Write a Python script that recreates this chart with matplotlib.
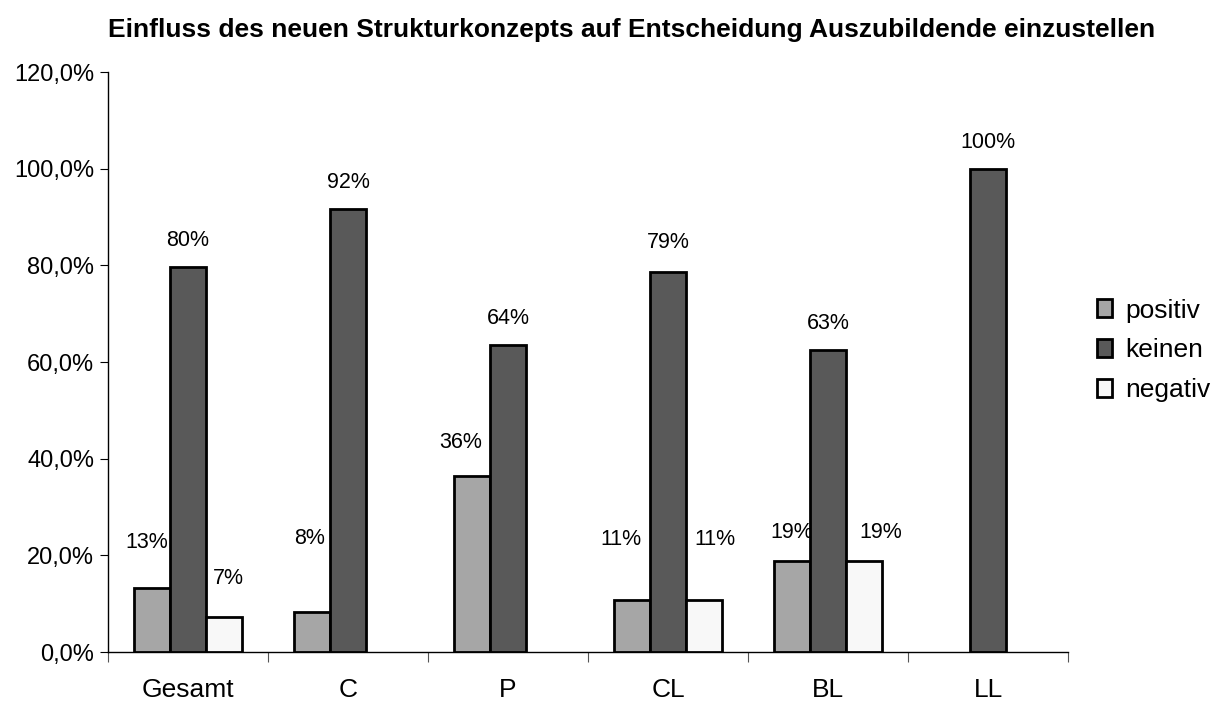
import numpy as np
import matplotlib.pyplot as plt
from matplotlib.ticker import FuncFormatter

plt.rcParams['font.family'] = ['Liberation Sans', 'DejaVu Sans']

# data (percent)
groups = ['Gesamt', 'C', 'P', 'CL', 'BL', 'LL']
series = ['positiv', 'keinen', 'negativ']
positiv = [13.2, 8.3, 36.4, 10.7, 18.75, 0.0]
keinen = [79.6, 91.7, 63.6, 78.6, 62.5, 100.0]
negativ = [7.2, 0.0, 0.0, 10.7, 18.75, 0.0]
yticks = [0, 20, 40, 60, 80, 100, 120]

colors = ['#a6a6a6', '#595959', '#f8f8f8']
# label placement like the original (y in %, x shift in points)
label_dy = [
    [9.4, 15.1, 7.0, 12.5, 5.9, 0],
    [5.6, 5.5, 5.5, 6.2, 5.4, 5.5],
    [8.1, 0, 0, 12.5, 5.9, 0],
]
label_dx = [
    [-4, -2, -8, -8, 0, 0],
    [0, 0, 0, 0, 0, 0],
    [3, 0, 0, 8, 12, 0],
]

fig = plt.figure(figsize=(12.26, 7.02), dpi=100)
ax = fig.add_axes([108 / 1226, 50 / 702, 960 / 1226, 580 / 702])

x = np.arange(len(groups))
w = 0.225
for i, (name, vals) in enumerate(zip(series, [positiv, keinen, negativ])):
    pos = x + (i - 1) * w
    lw = [2 if v > 0 else 0 for v in vals]
    ax.bar(pos, vals, width=w, color=colors[i], edgecolor='black',
           linewidth=lw, label=name, zorder=3)
    for p, v, dy, dx in zip(pos, vals, label_dy[i], label_dx[i]):
        if v > 0:
            ax.annotate(f'{int(v + 0.5)}%', (p, v + dy), xytext=(dx, 0),
                        textcoords='offset points', ha='center', va='center',
                        fontsize=15.5)

ax.set_xlim(-0.5, len(groups) - 0.5)
ax.set_ylim(0, 120)
ax.set_yticks(yticks)
ax.yaxis.set_major_formatter(FuncFormatter(lambda v, _: f'{v:.1f}%'.replace('.', ',')))
ax.set_xticks(np.arange(len(groups) + 1) - 0.5)
ax.set_xticklabels([])
ax.set_xticks(x, minor=True)
ax.set_xticklabels(groups, minor=True)
ax.tick_params(axis='x', which='minor', length=0, pad=19, labelsize=19)
ax.tick_params(axis='x', which='major', length=7, direction='out', color='#555555')
ax.tick_params(axis='y', length=6, labelsize=17, pad=4)
for s in ['top', 'right']:
    ax.spines[s].set_visible(False)
ax.spines['left'].set_linewidth(1)
ax.spines['bottom'].set_linewidth(1)

fig.text(632 / 1226, 1 - 30 / 702,
         'Einfluss des neuen Strukturkonzepts auf Entscheidung Auszubildende einzustellen',
         ha='center', va='center', fontsize=19, fontweight='bold')

leg = ax.legend(loc='center left', bbox_to_anchor=(1.005, 0.52), frameon=False,
                fontsize=19, handlelength=0.6, handleheight=0.65,
                handletextpad=0.5, labelspacing=0.6)

fig.savefig('out.png', dpi=100)
